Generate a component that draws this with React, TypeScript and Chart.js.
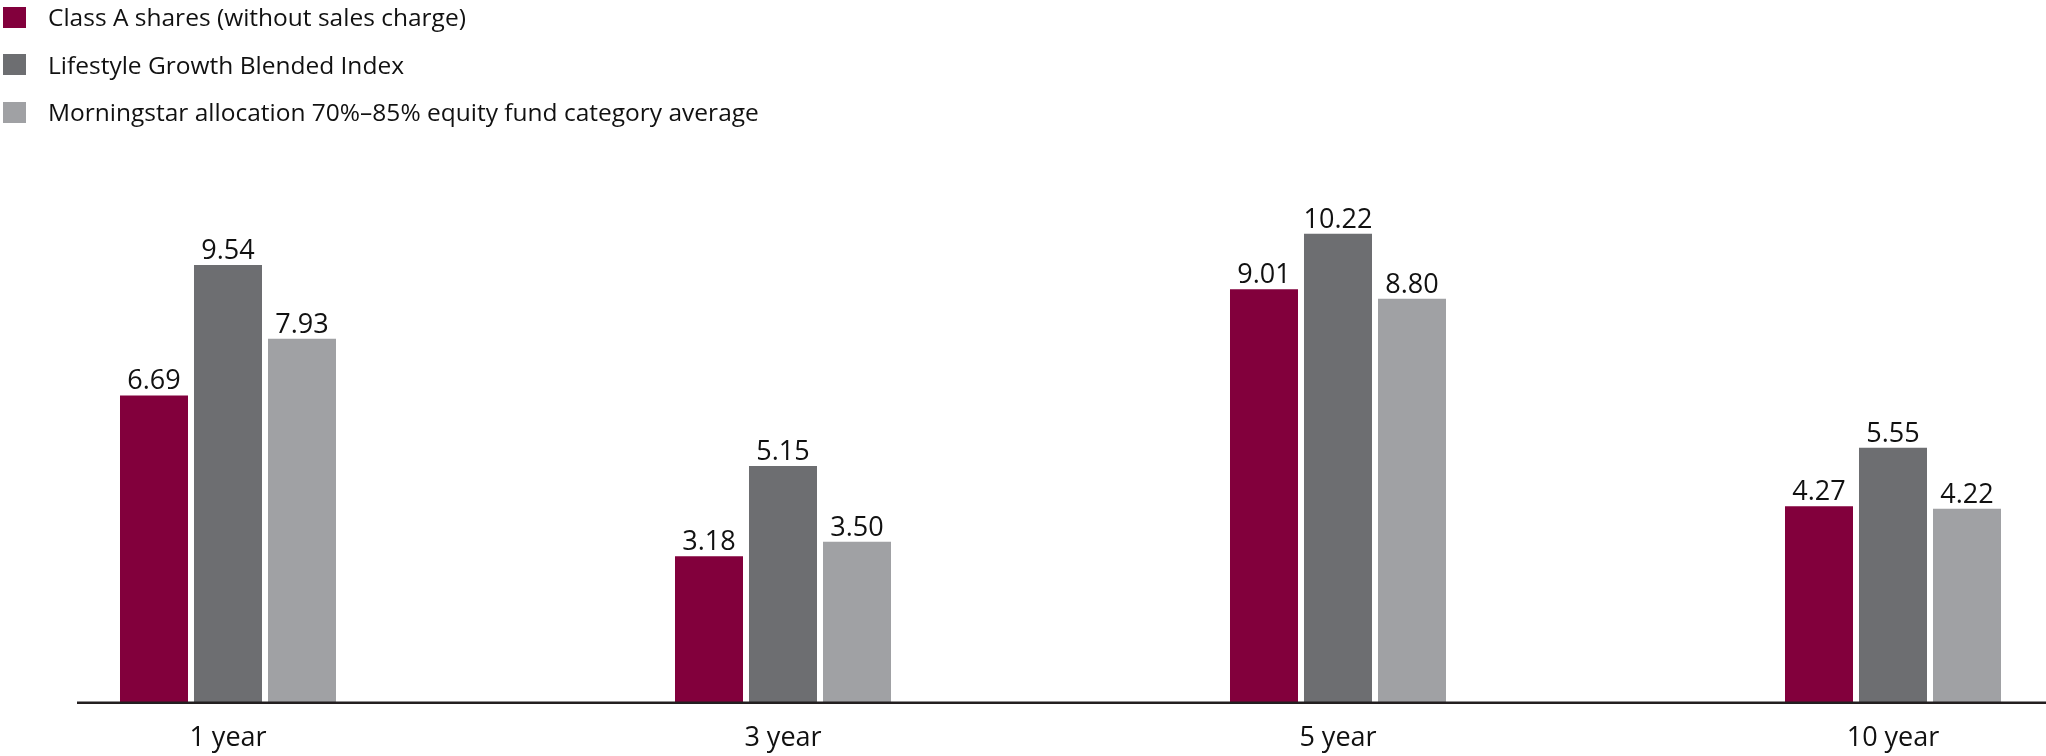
import React, { useEffect, useRef } from "react";
import { Chart, registerables } from "chart.js";

Chart.register(...registerables);

const categories = ["1 year", "3 year", "5 year", "10 year"];
const seriesLabels = [
  "Class A shares (without sales charge)",
  "Lifestyle Growth Blended Index",
  "Morningstar allocation 70%–85% equity fund category average",
];
const classAShares = [6.69, 3.18, 9.01, 4.27];
const blendedIndex = [9.54, 5.15, 10.22, 5.55];
const categoryAverage = [7.93, 3.5, 8.8, 4.22];
const seriesColors = ["#82003c", "#6d6e71", "#a0a1a4"];

const FONT = '"Open Sans", "Noto Sans", sans-serif';

const valueLabelPlugin = {
  id: "valueLabels",
  afterDatasetsDraw(chart: any) {
    const ctx = chart.ctx;
    ctx.save();
    ctx.font = `27px ${FONT}`;
    ctx.fillStyle = "#111111";
    ctx.textAlign = "center";
    ctx.textBaseline = "alphabetic";
    chart.data.datasets.forEach((ds: any, i: number) => {
      const meta = chart.getDatasetMeta(i);
      meta.data.forEach((el: any, j: number) => {
        const v = ds.data[j] as number;
        ctx.fillText(v.toFixed(2), el.x, el.y - 6);
      });
    });
    ctx.restore();
  },
};

const baselinePlugin = {
  id: "baseline",
  afterDatasetsDraw(chart: any) {
    const ctx = chart.ctx;
    const y = chart.scales.y.getPixelForValue(0);
    ctx.save();
    ctx.fillStyle = "#231f20";
    ctx.fillRect(77, y - 0.5, chart.width - 77, 2.5);
    ctx.restore();
  },
};

export default function App() {
  const canvasRef = useRef<HTMLCanvasElement | null>(null);

  useEffect(() => {
    if (!canvasRef.current) return;
    const seriesData = [classAShares, blendedIndex, categoryAverage];
    const chart = new Chart(canvasRef.current, {
      type: "bar",
      data: {
        labels: categories,
        datasets: seriesData.map((d, i) => ({
          label: seriesLabels[i],
          data: d,
          backgroundColor: seriesColors[i],
          borderWidth: 0,
          categoryPercentage: 0.4,
          barPercentage: 0.919,
          clip: false as any,
        })),
      },
      options: {
        animation: false,
        responsive: true,
        maintainAspectRatio: false,
        layout: { padding: { top: 198, left: 228, right: 153, bottom: 0 } },
        plugins: {
          legend: { display: false },
          tooltip: { enabled: false },
        },
        scales: {
          x: {
            offset: false,
            grid: { display: false, drawTicks: false },
            border: { display: false },
            afterFit: (scale: any) => {
              scale.height = 54;
            },
            ticks: {
              padding: 20,
              color: "#111111",
              font: { family: FONT, size: 27 },
              maxRotation: 0,
              autoSkip: false,
            },
          },
          y: {
            display: false,
            min: 0,
            max: 11,
          },
        },
      },
      plugins: [valueLabelPlugin, baselinePlugin],
    });
    return () => chart.destroy();
  }, []);

  return (
    <div style={{ position: "absolute", left: 0, top: 0, width: 2046, height: 756, background: "#ffffff" }}>
      <canvas ref={canvasRef} />
      <div style={{ position: "absolute", left: 0, top: 0 }}>
        {seriesLabels.map((label, i) => (
          <div
            key={label}
            style={{
              position: "absolute",
              left: 3,
              top: [17, 64.5, 112][i] - 16,
              height: 32,
              display: "flex",
              alignItems: "center",
              whiteSpace: "nowrap",
            }}
          >
            <span style={{ display: "inline-block", width: 23, height: 21, background: seriesColors[i] }} />
            <span style={{ marginLeft: 22, fontFamily: FONT, fontSize: 24.5, color: "#111111", lineHeight: "32px" }}>
              {label}
            </span>
          </div>
        ))}
      </div>
    </div>
  );
}
